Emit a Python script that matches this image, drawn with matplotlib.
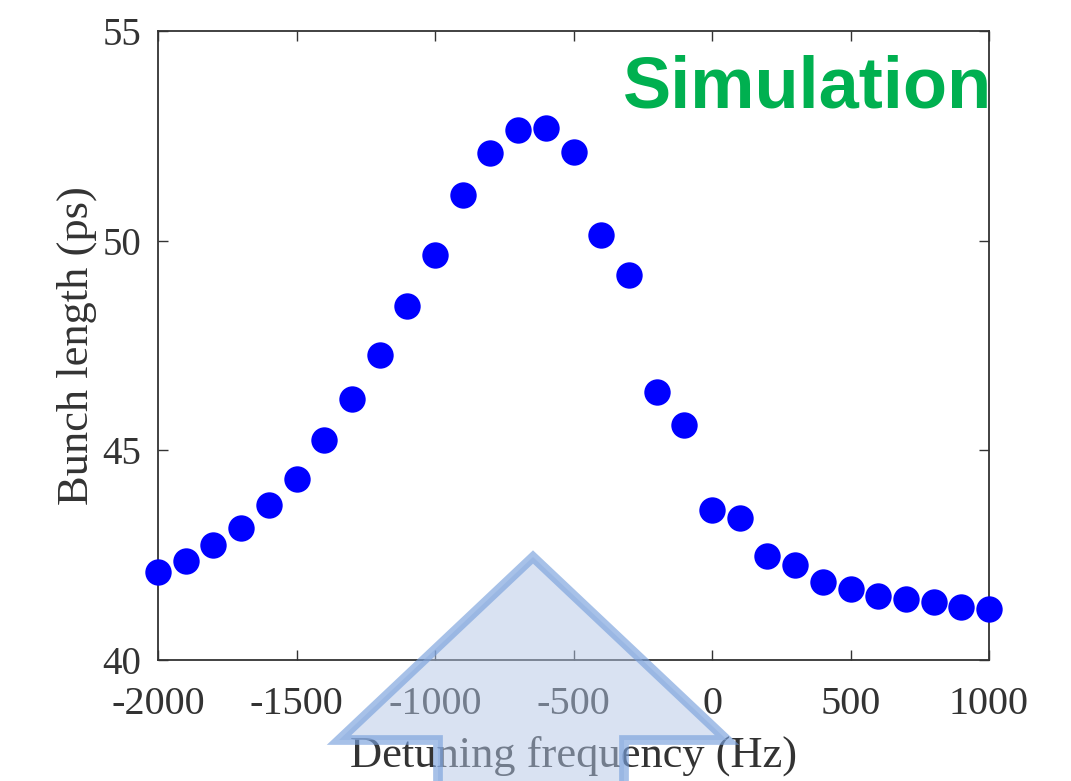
import numpy as np
import matplotlib.pyplot as plt
from matplotlib.patches import Polygon

# detuning scan, simulated bunch length
detuning = np.arange(-2000, 1001, 100)
bunch_length = [42.10, 42.36, 42.74, 43.15, 43.70, 44.32, 45.25, 46.22, 47.27, 48.44,
                49.66, 51.09, 52.09, 52.64, 52.69, 52.12, 50.14, 49.18, 46.39, 45.60,
                43.58, 43.39, 42.48, 42.27, 41.86, 41.69, 41.53, 41.45, 41.38, 41.26,
                41.22]
x_ticks = [-2000, -1500, -1000, -500, 0, 500, 1000]
y_ticks = [40, 45, 50, 55]

W, H = 1071, 781
fig = plt.figure(figsize=(W / 100, H / 100), dpi=100)
ax = fig.add_axes([158 / W, 1 - 660 / H, (989 - 158) / W, (660 - 31) / H])

serif = ['Liberation Serif', 'DejaVu Serif']
txt_col = '#333333'

ax.plot(detuning, bunch_length, 'o', color='#0000ff', markersize=19,
        markeredgewidth=0, clip_on=False, zorder=3)

ax.set_xlim(-2000, 1000)
ax.set_ylim(40, 55)
ax.set_xticks(x_ticks)
ax.set_yticks(y_ticks)
ax.set_xticklabels([str(t) for t in x_ticks], family=serif, fontsize=29, color=txt_col)
ax.set_yticklabels([str(t) for t in y_ticks], family=serif, fontsize=28, color=txt_col)
ax.tick_params(direction='in', length=7, width=1, color='#333333',
               top=True, right=True)
ax.tick_params(axis='x', pad=19)
ax.tick_params(axis='y', pad=12)
for s in ax.spines.values():
    s.set_linewidth(1.3)
    s.set_color('#333333')

ax.set_xlabel('Detuning frequency (Hz)', family=serif, fontsize=32, color=txt_col,
              labelpad=9)
ax.set_ylabel('Bunch length (ps)', family=serif, fontsize=32, color=txt_col,
              labelpad=4)

fig.text(992 / W, 1 - 108 / H, 'Simulation', family=['Liberation Sans', 'DejaVu Sans'],
         fontsize=52, fontweight='bold', color='#00b050', ha='right', va='baseline')

# big translucent arrow pointing up at the peak
px = [(533, 557), (727, 740), (624, 740), (624, 800), (438, 800), (438, 740), (339, 740)]
arrow = Polygon([(x / W, 1 - y / H) for x, y in px], closed=True,
                transform=fig.transFigure,
                facecolor=(180 / 255, 199 / 255, 231 / 255, 0.5),
                edgecolor=(120 / 255, 160 / 255, 220 / 255, 0.65),
                linewidth=7, joinstyle='miter', zorder=10)
fig.patches.append(arrow)

fig.savefig('out.png', dpi=100)
